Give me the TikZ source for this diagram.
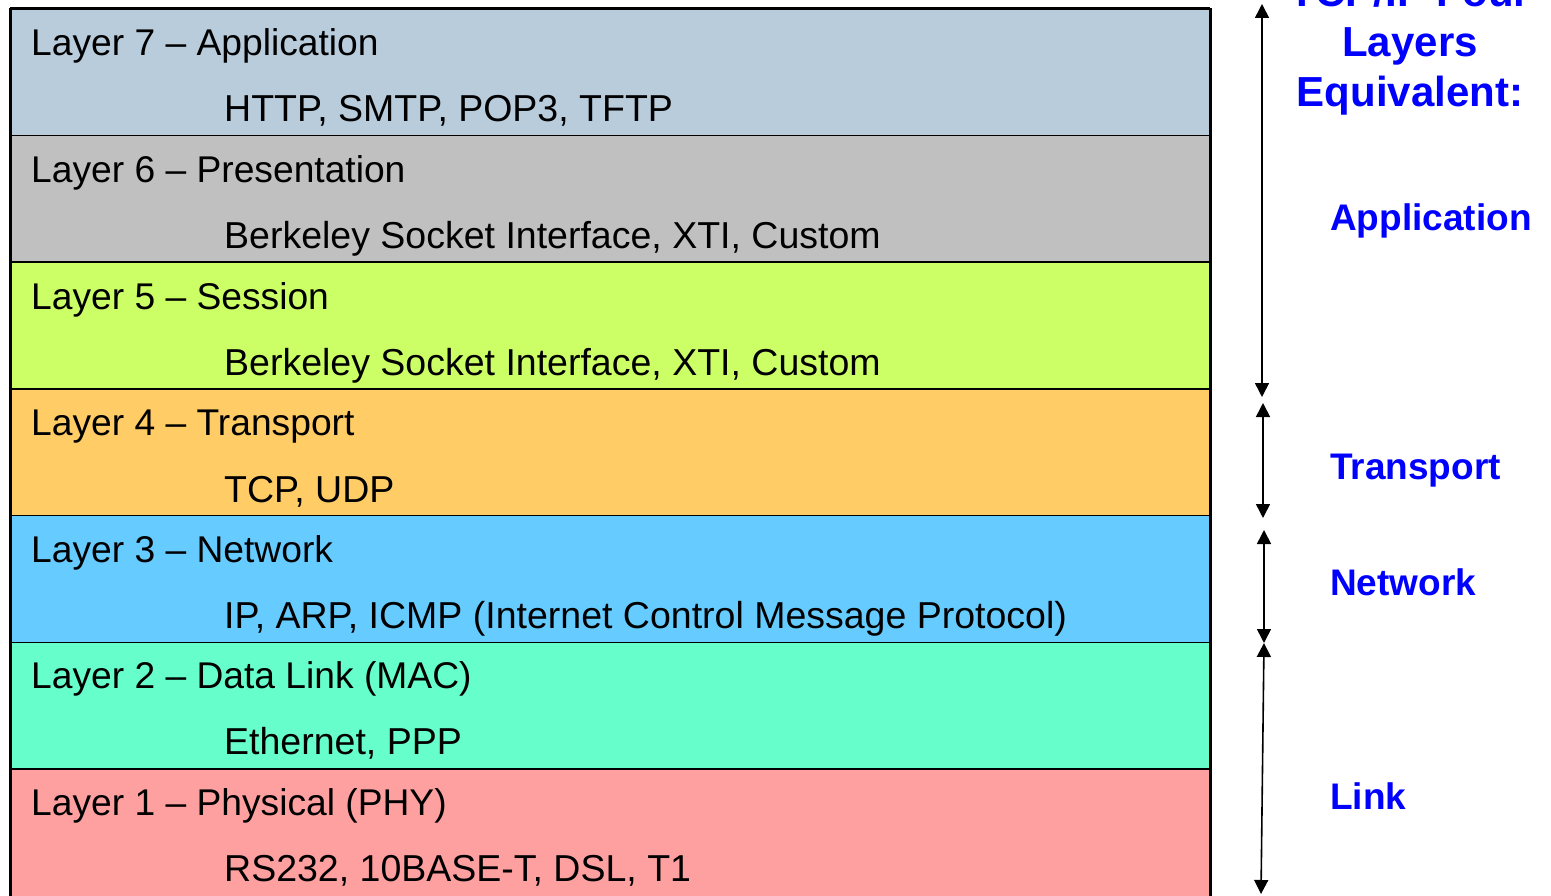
\documentclass[tikz,border=0pt]{standalone}
\usepackage{fontspec}
\setmainfont{Liberation Sans}
\usetikzlibrary{arrows.meta}

\definecolor{cApp}{RGB}{184,204,220}
\definecolor{cPres}{RGB}{192,192,192}
\definecolor{cSess}{RGB}{204,255,102}
\definecolor{cTrans}{RGB}{255,204,102}
\definecolor{cNet}{RGB}{102,204,255}
\definecolor{cLink}{RGB}{102,255,204}
\definecolor{cPhy}{RGB}{255,160,160}
\definecolor{tcpblue}{RGB}{0,0,255}

\tikzset{
  band/.style={draw=black, line width=1.6pt, anchor=north west, inner sep=0pt,
               minimum width=1200pt, minimum height=126.7pt},
  layername/.style={anchor=base west, inner sep=0pt, font=\fontsize{37.2}{44}\selectfont},
  protocols/.style={anchor=base west, inner sep=0pt, font=\fontsize{37.5}{44}\selectfont},
  tcptitle/.style={anchor=base, inner sep=0pt, text=tcpblue, font=\bfseries\fontsize{42}{50}\selectfont},
  tcplayer/.style={anchor=base west, inner sep=0pt, text=tcpblue, font=\bfseries\fontsize{37}{44}\selectfont},
  span/.style={line width=1.6pt, {Triangle[width=14pt,length=14pt]}-{Triangle[width=14pt,length=14pt]}}
}

\begin{document}
\begin{tikzpicture}[x=1pt,y=-1pt]
  \useasboundingbox (0,0) rectangle (1551,896);
  \clip (0,0) rectangle (1551,896);

  % OSI stack, one band per layer
  \node[band, fill=cApp]   (l7) at (10,8)      {};
  \node[band, fill=cPres]  (l6) at (10,134.7)  {};
  \node[band, fill=cSess]  (l5) at (10,261.4)  {};
  \node[band, fill=cTrans] (l4) at (10,388.1)  {};
  \node[band, fill=cNet]   (l3) at (10,514.8)  {};
  \node[band, fill=cLink]  (l2) at (10,641.5)  {};
  \node[band, fill=cPhy, minimum height=260pt] (l1) at (10,768.2) {};
  \draw[line width=2.2pt] (10,8) -- (1210,8);
  \draw[line width=2.2pt] (10,8) -- (10,1000);
  \draw[line width=3pt] (1210,8) -- (1210,1000);

  % layer names and protocols
  \node[layername] (n7) at (31,56)  {Layer 7 – Application};
  \node[protocols] (p7) at (224,122) {HTTP, SMTP, POP3, TFTP};
  \node[layername] (n6) at (31,183)  {Layer 6 – Presentation};
  \node[protocols] (p6) at (224,249) {Berkeley Socket Interface, XTI, Custom};
  \node[layername] (n5) at (31,309)  {Layer 5 – Session};
  \node[protocols] (p5) at (224,375) {Berkeley Socket Interface, XTI, Custom};
  \node[layername] (n4) at (31,435)  {Layer 4 – Transport};
  \node[protocols] (p4) at (224,502) {TCP, UDP};
  \node[layername] (n3) at (31,562)  {Layer 3 – Network};
  \node[protocols] (p3) at (224,628) {IP, ARP, ICMP (Internet Control Message Protocol)};
  \node[layername] (n2) at (31,688)  {Layer 2 – Data Link (MAC)};
  \node[protocols] (p2) at (224,754) {Ethernet, PPP};
  \node[layername] (n1) at (31,815)  {Layer 1 – Physical (PHY)};
  \node[protocols] (p1) at (224,881) {RS232, 10BASE-T, DSL, T1};

  % TCP/IP heading
  \node[tcptitle] (t1) at (1410,7)   {TCP/IP Four};
  \node[tcptitle] (t2) at (1410,57)  {Layers};
  \node[tcptitle] (t3) at (1410,107) {Equivalent:};

  % TCP/IP layer names
  \node[tcplayer] (tApp)  at (1330,231) {Application};
  \node[tcplayer] (tTr)   at (1330,479) {Transport};
  \node[tcplayer] (tNet)  at (1330,595) {Network};
  \node[tcplayer] (tLink) at (1330,809) {Link};

  % extents of the TCP/IP layers
  \coordinate (appTop)  at (1262,4);
  \coordinate (appBot)  at (1262,397);
  \coordinate (trTop)   at (1263,403);
  \coordinate (trBot)   at (1263,518);
  \coordinate (netTop)  at (1264,530);
  \coordinate (netBot)  at (1264,643);
  \coordinate (linkTop) at (1264,643);
  \coordinate (linkBot) at (1261,894);
  \draw[span] (appTop) -- (appBot);
  \draw[span] (trTop) -- (trBot);
  \draw[span] (netTop) -- (netBot);
  \draw[span] (linkTop) -- (linkBot);
\end{tikzpicture}
\end{document}
